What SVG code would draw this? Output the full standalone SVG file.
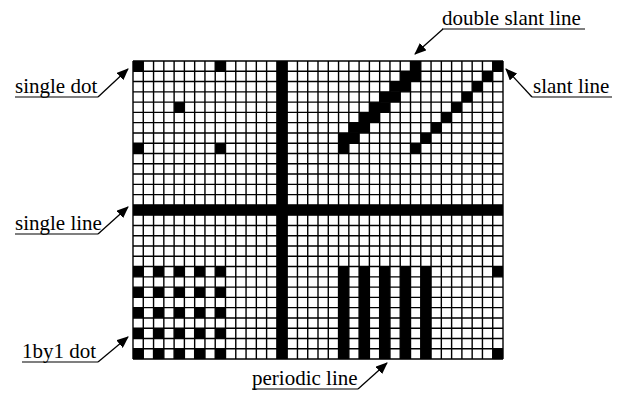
<svg xmlns="http://www.w3.org/2000/svg" width="624" height="394" viewBox="0 0 624 394">
<style>
.lbl{font-family:"Liberation Serif","Times New Roman",serif;font-size:21px;fill:#000}
.ul{stroke:#000;stroke-width:1.2;fill:none}
.arr{stroke:#000;stroke-width:1.3;fill:none;marker-end:url(#ah)}
.grid{stroke:#000;stroke-width:1.4;fill:none}
</style>
<defs>
<marker id="ah" viewBox="0 0 12 10" refX="11" refY="5" markerWidth="12" markerHeight="10" markerUnits="userSpaceOnUse" orient="auto">
<path d="M0,0 L12,5 L0,10 Z" fill="#000"/>
</marker>
<rect id="c" width="1" height="1" fill="#000"/>
</defs>
<rect width="624" height="394" fill="#fff"/>
<g id="grid" transform="translate(133,61) scale(10.2778)">
<rect width="36" height="29" fill="#fff"/>
<g id="cells" fill="#000">
<rect x="14" y="0" width="1" height="29"/>
<rect x="0" y="14" width="36" height="1"/>
<use href="#c" x="0" y="0"/><use href="#c" x="8" y="0"/><use href="#c" x="4" y="4"/><use href="#c" x="0" y="8"/><use href="#c" x="8" y="8"/>
<use href="#c" x="27" y="0"/>
<rect x="26" y="1" width="2" height="1"/><rect x="25" y="2" width="2" height="1"/><rect x="24" y="3" width="2" height="1"/><rect x="23" y="4" width="2" height="1"/><rect x="22" y="5" width="2" height="1"/><rect x="21" y="6" width="2" height="1"/><rect x="20" y="7" width="2" height="1"/>
<use href="#c" x="20" y="8"/>
<use href="#c" x="35" y="0"/><use href="#c" x="34" y="1"/><use href="#c" x="33" y="2"/><use href="#c" x="32" y="3"/><use href="#c" x="31" y="4"/><use href="#c" x="30" y="5"/><use href="#c" x="29" y="6"/><use href="#c" x="28" y="7"/><use href="#c" x="27" y="8"/>
<rect x="20" y="20" width="1" height="9"/><rect x="22" y="20" width="1" height="9"/><rect x="24" y="20" width="1" height="9"/><rect x="26" y="20" width="1" height="9"/><rect x="28" y="20" width="1" height="9"/>
<use href="#c" x="35" y="20"/><use href="#c" x="35" y="28"/>
<use href="#c" x="0" y="20"/><use href="#c" x="2" y="20"/><use href="#c" x="4" y="20"/><use href="#c" x="6" y="20"/><use href="#c" x="8" y="20"/>
<use href="#c" x="0" y="22"/><use href="#c" x="2" y="22"/><use href="#c" x="4" y="22"/><use href="#c" x="6" y="22"/><use href="#c" x="8" y="22"/>
<use href="#c" x="0" y="24"/><use href="#c" x="2" y="24"/><use href="#c" x="4" y="24"/><use href="#c" x="6" y="24"/><use href="#c" x="8" y="24"/>
<use href="#c" x="0" y="26"/><use href="#c" x="2" y="26"/><use href="#c" x="4" y="26"/><use href="#c" x="6" y="26"/><use href="#c" x="8" y="26"/>
<use href="#c" x="0" y="28"/><use href="#c" x="2" y="28"/><use href="#c" x="4" y="28"/><use href="#c" x="6" y="28"/><use href="#c" x="8" y="28"/>
</g>
<path class="grid" vector-effect="non-scaling-stroke" d="M0 0V29M1 0V29M2 0V29M3 0V29M4 0V29M5 0V29M6 0V29M7 0V29M8 0V29M9 0V29M10 0V29M11 0V29M12 0V29M13 0V29M14 0V29M15 0V29M16 0V29M17 0V29M18 0V29M19 0V29M20 0V29M21 0V29M22 0V29M23 0V29M24 0V29M25 0V29M26 0V29M27 0V29M28 0V29M29 0V29M30 0V29M31 0V29M32 0V29M33 0V29M34 0V29M35 0V29M36 0V29M0 0H36M0 1H36M0 2H36M0 3H36M0 4H36M0 5H36M0 6H36M0 7H36M0 8H36M0 9H36M0 10H36M0 11H36M0 12H36M0 13H36M0 14H36M0 15H36M0 16H36M0 17H36M0 18H36M0 19H36M0 20H36M0 21H36M0 22H36M0 23H36M0 24H36M0 25H36M0 26H36M0 27H36M0 28H36M0 29H36"/>
</g>
<g id="label-single-dot">
<text class="lbl" x="15" y="93">single dot</text>
<line class="ul" x1="15" y1="97" x2="98" y2="97"/>
</g>
<g id="label-single-line">
<text class="lbl" x="15" y="230">single line</text>
<line class="ul" x1="15" y1="234" x2="98" y2="234"/>
</g>
<g id="label-1by1-dot">
<text class="lbl" x="22" y="358">1by1 dot</text>
<line class="ul" x1="22" y1="362" x2="98" y2="362"/>
</g>
<g id="label-double-slant-line">
<text class="lbl" x="442" y="25">double slant line</text>
<line class="ul" x1="442" y1="29" x2="585" y2="29"/>
</g>
<g id="label-slant-line">
<text class="lbl" x="533" y="93">slant line</text>
<line class="ul" x1="532" y1="97" x2="612" y2="97"/>
</g>
<g id="label-periodic-line">
<text class="lbl" x="252" y="385">periodic line</text>
<line class="ul" x1="252" y1="389" x2="358" y2="389"/>
</g>
<g id="connectors">
<line class="arr" x1="98" y1="97" x2="128" y2="69"/>
<line class="arr" x1="98" y1="234" x2="128" y2="207"/>
<line class="arr" x1="98" y1="362" x2="128" y2="337"/>
<line class="arr" x1="443" y1="29" x2="415" y2="54"/>
<line class="arr" x1="532" y1="97" x2="506" y2="69"/>
<line class="arr" x1="358" y1="389" x2="387" y2="363"/>
</g>
</svg>
